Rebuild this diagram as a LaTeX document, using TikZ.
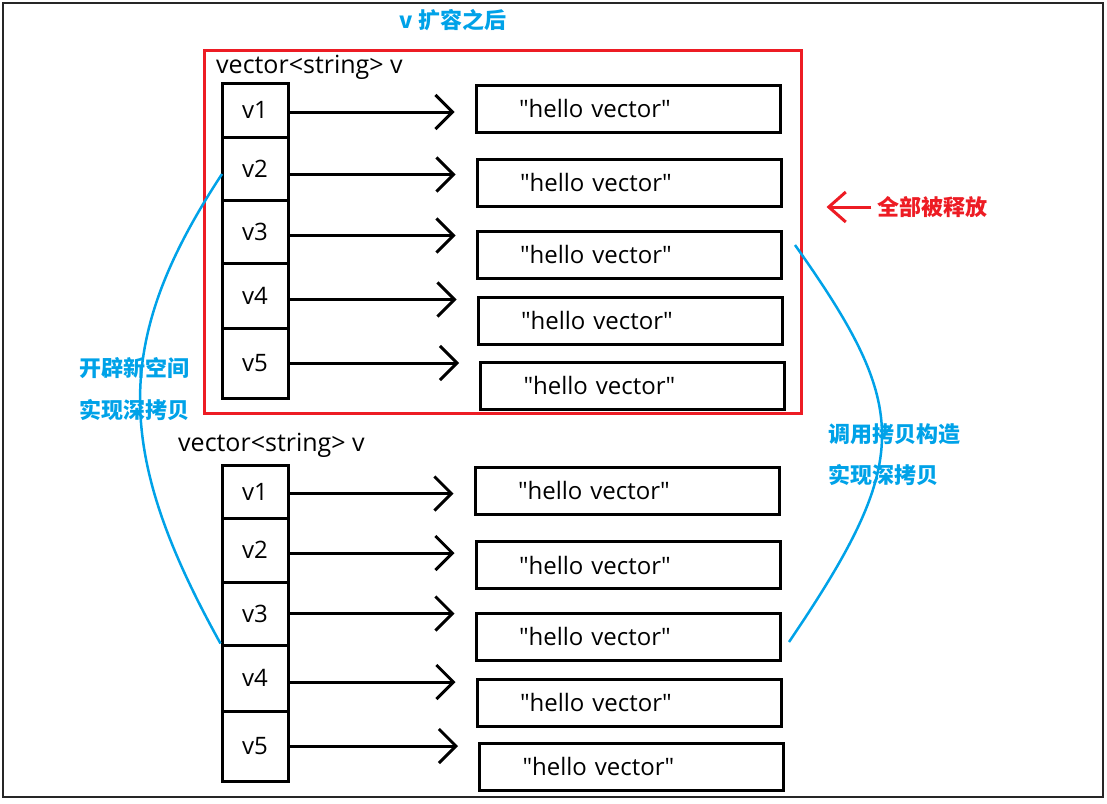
\documentclass[tikz,border=0pt]{standalone}
\usepackage{fontspec}
\setmainfont{Open Sans}
\newfontfamily\cjk{Noto Sans CJK SC}
\usetikzlibrary{arrows.meta}
\definecolor{paintblue}{RGB}{0,162,232}
\definecolor{paintred}{RGB}{237,28,36}
\newcommand{\hv}{\textquotedbl hello vector\textquotedbl}
\tikzset{
  cell/.style={draw, line width=3pt, minimum width=66pt, inner sep=0pt, font=\fontsize{24}{28}\selectfont},
  strbox/.style={draw, line width=3pt, minimum height=47pt, text width=218pt, inner xsep=43pt, inner ysep=0pt, align=left, font=\fontsize{24}{28}\selectfont},
  vlabel/.style={anchor=west, inner sep=0pt, font=\fontsize{25}{28}\selectfont},
  ptr/.style={-{Straight Barb[length=17pt,width=34pt]}, line width=3pt, shorten >=20pt},
  bluenote/.style={text=paintblue, font=\cjk\bfseries\fontsize{22}{26}\selectfont},
  rednote/.style={text=paintred, font=\cjk\bfseries\fontsize{22}{26}\selectfont},
  redptr/.style={-{Straight Barb[length=17pt,width=30pt]}, draw=paintred, line width=3pt, shorten >=24pt, shorten <=2pt},
  copyline/.style={draw=paintblue, line width=2.5pt}
}

\begin{document}
\begin{tikzpicture}[x=1pt, y=-1pt]
\path[use as bounding box] (0,0) rectangle (1107,803);
\draw[line width=2pt, black!85] (3,3) rectangle (1103,797);
\node[bluenote] (title) at (453,20) {v 扩容之后};
% old storage, freed after growing
\node[draw=paintred, line width=3pt, minimum width=597pt, minimum height=363pt] (freed) at (502.5,231.5) {};
\node[vlabel] (tv) at (216,67) {vector<string> v};
\node[cell, minimum height=54pt] (t1) at (255,110) {v1};
\node[cell, minimum height=63pt] (t2) at (255,168.5) {v2};
\node[cell, minimum height=63pt] (t3) at (255,231.5) {v3};
\node[cell, minimum height=65pt] (t4) at (255,295.5) {v4};
\node[cell, minimum height=70pt] (t5) at (255,363) {v5};
\node[strbox] (ts1) at (628,108.5) {\hv};
\node[strbox] (ts2) at (629,182.5) {\hv};
\node[strbox] (ts3) at (629,254.5) {\hv};
\node[strbox] (ts4) at (630,320.5) {\hv};
\node[strbox] (ts5) at (632.5,385.5) {\hv};
\draw[ptr] ([yshift=-2pt]t1.east) -- ([yshift=-2pt]t1.east -| ts1.west);
\draw[ptr] ([yshift=-6pt]t2.east) -- ([yshift=-6pt]t2.east -| ts2.west);
\draw[ptr] ([yshift=-4pt]t3.east) -- ([yshift=-4pt]t3.east -| ts3.west);
\draw[ptr] ([yshift=-4pt]t4.east) -- ([yshift=-4pt]t4.east -| ts4.west);
\draw[ptr] (t5.east) -- (t5.east -| ts5.west);
\node[rednote] (freedtxt) at (932,207) {全部被释放};
\draw[redptr] (freedtxt.west) -- (freed.east |- freedtxt.west);
% new storage
\node[vlabel] (bv) at (178,445) {vector<string> v};
\node[cell, minimum height=53pt] (b1) at (255,491.5) {v1};
\node[cell, minimum height=64pt] (b2) at (255,550) {v2};
\node[cell, minimum height=63pt] (b3) at (255,613.5) {v3};
\node[cell, minimum height=66pt] (b4) at (255,678) {v4};
\node[cell, minimum height=70pt] (b5) at (255,746) {v5};
\node[strbox] (bs1) at (627,490.5) {\hv};
\node[strbox] (bs2) at (628,565) {\hv};
\node[strbox] (bs3) at (628,636.5) {\hv};
\node[strbox] (bs4) at (629,702.5) {\hv};
\node[strbox] (bs5) at (631.5,766.5) {\hv};
\draw[ptr] ([yshift=-2pt]b1.east) -- ([yshift=-2pt]b1.east -| bs1.west);
\draw[ptr] ([yshift=-3pt]b2.east) -- ([yshift=-3pt]b2.east -| bs2.west);
\draw[ptr] (b3.east) -- (b3.east -| bs3.west);
\draw[ptr] ([yshift=-4pt]b4.east) -- ([yshift=-4pt]b4.east -| bs4.west);
\draw[ptr] (b5.east) -- (b5.east -| bs5.west);
% copy relations
\coordinate (lcopy) at (222,174);
\coordinate (rtop) at (795,245);
\coordinate (rbot) at (789,642);
\draw[copyline] (lcopy) .. controls (113,340) and (113,450) .. (b4.north west);
\draw[copyline] (rtop) .. controls (912,410) and (912,460) .. (rbot);
\node[bluenote] (newspace) at (134,368) {开辟新空间};
\node[bluenote] (deepl) at (134,410) {实现深拷贝};
\node[bluenote] (copyctor) at (894,434) {调用拷贝构造};
\node[bluenote] (deepr) at (883,475) {实现深拷贝};
\end{tikzpicture}
\end{document}
